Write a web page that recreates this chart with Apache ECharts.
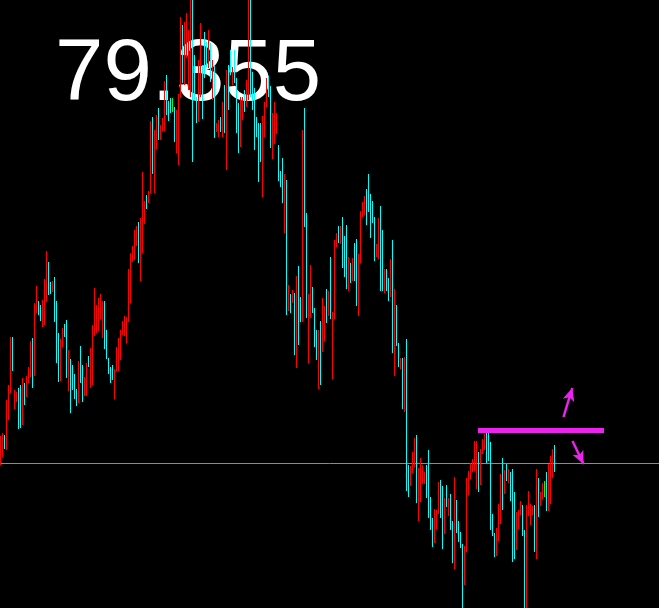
<!DOCTYPE html>
<html>
<head>
<meta charset="utf-8">
<script src="https://cdn.jsdelivr.net/npm/echarts@6/dist/echarts.min.js"></script>
<style>html,body{margin:0;padding:0;background:#000;}#c{width:659px;height:608px;}</style>
</head>
<body>
<div id="c"></div>
<script>
// Bar highs (price)
var highs = [
79.490,79.505,79.495,79.670,79.745,79.985,79.985,79.720,79.710,79.730,
79.745,79.780,79.755,79.790,79.835,79.965,79.980,80.155,80.240,80.165,
80.145,80.170,80.275,80.415,80.360,80.260,80.265,80.285,80.165,80.005,
79.975,80.030,80.050,80.070,79.920,79.875,79.845,79.800,79.725,79.865,
79.940,79.845,79.785,79.855,79.890,79.930,80.045,80.230,80.145,80.180,
80.200,80.165,80.165,80.020,79.880,79.835,79.845,79.825,79.935,79.980,
80.020,80.065,80.090,80.085,80.325,80.405,80.440,80.520,80.540,80.560,
80.580,80.810,80.665,80.695,80.715,81.065,81.085,81.020,81.095,81.130,
81.045,81.080,81.265,81.295,81.165,81.180,81.180,81.135,81.120,81.200,
81.585,81.545,81.560,81.605,81.520,81.695,81.695,81.395,81.185,81.370,
81.555,81.345,81.510,81.460,81.520,81.455,81.370,81.340,81.055,81.070,
81.085,81.160,81.245,81.320,81.345,81.420,81.335,81.420,81.280,81.155,
81.185,81.185,81.220,81.270,81.695,81.695,81.310,81.230,81.085,81.055,
81.055,81.090,81.160,81.280,81.290,81.240,81.105,81.160,81.105,80.945,
80.815,80.880,80.800,80.770,80.245,80.200,80.220,80.205,80.290,80.340,
80.185,81.020,81.130,80.605,80.200,80.345,80.235,80.130,80.020,80.020,
80.065,80.180,80.140,80.225,80.215,80.385,80.110,80.470,80.505,80.540,
80.540,80.585,80.490,80.545,80.385,80.355,80.380,80.455,80.475,80.400,
80.615,80.660,80.690,80.725,80.800,80.700,80.665,80.585,80.450,80.580,
80.640,80.520,80.325,80.325,80.280,80.375,80.470,80.225,80.145,79.955,
79.880,79.880,79.885,79.975,79.345,79.340,79.410,79.480,79.495,79.330,
79.380,79.345,79.310,79.345,79.420,79.185,79.080,79.125,79.120,79.260,
79.270,79.240,79.180,79.245,79.180,79.200,79.065,79.285,79.170,79.065,
79.010,78.950,78.940,79.280,79.315,79.355,79.375,79.465,79.465,79.410,
79.425,79.475,79.500,79.505,79.505,79.460,79.100,79.005,79.030,79.150,
79.300,79.380,79.320,79.350,79.325,79.310,79.325,79.210,79.110,79.120,
79.165,79.145,79.020,79.145,79.215,79.150,79.140,79.145,79.325,79.280,
79.210,79.255,79.265,79.310,79.350,79.390,79.425,79.445
];
// Bar lows (price)
var lows = [
79.345,79.385,79.425,79.420,79.570,79.705,79.815,79.625,79.660,79.525,
79.530,79.545,79.645,79.685,79.755,79.785,79.730,79.790,80.105,80.095,
80.065,80.035,80.045,80.160,80.195,80.200,80.210,80.060,79.855,79.760,
79.765,79.935,79.985,79.780,79.715,79.605,79.720,79.675,79.640,79.655,
79.755,79.660,79.690,79.690,79.835,79.730,79.745,79.990,80.005,80.015,
80.075,79.980,79.925,79.875,79.800,79.755,79.770,79.675,79.815,79.815,
79.870,79.995,79.990,79.955,80.060,80.155,80.360,80.370,80.440,80.355,
80.265,80.405,80.550,80.625,80.655,80.705,80.800,80.705,80.925,80.970,
80.970,81.015,81.015,81.095,81.065,81.105,81.110,80.960,80.905,80.845,
81.180,81.255,81.245,81.380,81.220,81.185,80.860,81.170,81.055,81.060,
81.185,81.075,81.280,81.335,81.330,81.260,81.170,80.980,81.010,80.985,
81.010,80.985,81.005,80.820,81.120,81.295,81.245,81.255,81.005,80.905,
80.935,81.070,81.110,81.135,81.170,81.185,81.120,80.920,80.985,80.760,
80.860,80.685,80.985,81.135,81.185,80.930,80.875,80.950,81.000,80.765,
80.735,80.655,80.505,80.095,80.115,80.105,80.155,79.895,79.830,79.945,
80.060,80.060,80.535,80.080,79.855,80.080,80.105,79.935,79.870,79.725,
79.745,79.910,79.965,80.055,80.090,80.075,79.775,80.075,80.435,80.455,
80.450,80.330,80.285,80.225,80.215,80.255,80.265,80.265,80.140,80.090,
80.355,80.585,80.595,80.545,80.610,80.480,80.555,80.365,80.385,80.375,
80.215,80.215,80.205,80.215,80.165,80.185,79.905,79.790,79.940,79.835,
79.825,79.625,79.610,79.215,79.185,79.240,79.305,79.335,79.155,79.065,
79.160,79.250,79.250,79.180,79.080,79.020,78.935,78.955,79.025,79.100,
79.080,78.925,79.000,79.135,79.090,79.020,78.855,78.825,79.005,78.960,
78.930,78.610,78.745,78.910,79.195,79.275,79.310,79.315,79.225,79.210,
79.245,79.400,79.420,79.355,79.365,79.020,78.990,78.885,78.890,78.965,
79.050,79.120,79.200,79.265,79.255,79.165,78.860,78.875,78.920,79.025,
79.095,78.990,78.610,78.610,79.090,79.045,79.095,78.910,78.875,79.085,
79.140,79.175,79.185,79.115,79.115,79.150,79.280,79.310
];
// Bar direction: 1 = up (red), -1 = down (cyan), 0 = unchanged (green)
var dirs = [
1,1,-1,1,1,1,-1,1,1,-1, -1,1,-1,1,1,1,-1,1,1,-1,
-1,1,1,1,-1,-1,1,-1,-1,-1, 1,1,-1,-1,1,-1,-1,-1,-1,1,
-1,-1,1,1,-1,1,1,1,1,1, 1,1,-1,-1,-1,-1,-1,1,1,1,
1,1,1,1,1,1,1,1,1,-1, 1,1,1,-1,1,1,-1,1,1,-1,
1,1,1,-1,-1,-1,0,-1,1,1, 1,-1,1,1,1,1,-1,-1,-1,1,
1,-1,-1,-1,1,-1,1,-1,1,1, -1,1,-1,1,-1,-1,1,-1,-1,-1,
1,1,-1,1,1,-1,-1,-1,-1,-1, -1,1,1,1,-1,-1,1,1,1,-1,
-1,-1,1,-1,1,-1,1,-1,1,-1, -1,1,-1,-1,1,1,-1,-1,-1,1,
-1,1,1,-1,1,-1,1,1,1,-1, 1,-1,-1,-1,1,-1,1,-1,-1,1,
1,1,1,-1,-1,-1,-1,-1,1,1, -1,-1,1,-1,-1,1,-1,1,-1,-1,
1,-1,1,-1,-1,1,1,1,-1,1, 1,1,1,-1,-1,-1,-1,1,1,1,
-1,-1,1,-1,1,-1,-1,1,-1,-1, -1,-1,1,1,1,1,1,1,1,-1,
1,1,1,-1,-1,-1,-1,-1,1,1, 1,-1,1,-1,1,-1,-1,-1,1,1,
1,-1,-1,1,1,1,1,-1,1,-1, 1,1,0,-1,1,1,1,-1
];
var lastPrice = 79.355;
var levelPrice = 79.5175;
var priceText = '79.355';

var colorOf = {'1': '#ff0000', '-1': '#00ffff', '0': '#00ff00'};
var bars = highs.map(function (h, i) { return [i, h, lows[i], dirs[i]]; });

var chart = echarts.init(document.getElementById('c'), null, {renderer: 'canvas'});
chart.setOption({
  backgroundColor: '#000000',
  animation: false,
  grid: {left: 0, right: 0, top: 0, bottom: 0},
  xAxis: {type: 'value', min: -0.25, max: 329.25, show: false},
  yAxis: {type: 'value', min: 78.63, max: 81.67, show: false},
  graphic: [{
    type: 'text', z: 0, left: 55, top: 33,
    style: {text: priceText, fill: '#ffffff', font: 'normal 87px "Liberation Sans", Arial, sans-serif'}
  }],
  series: [{
    type: 'custom',
    z: 5,
    clip: true,
    data: bars,
    encode: {x: 0, y: [1, 2]},
    renderItem: function (params, api) {
      var i = api.value(0);
      var top = api.coord([i, api.value(1)]);
      var bot = api.coord([i, api.value(2)]);
      var d = String(api.value(3));
      return {
        type: 'rect',
        shape: {x: Math.round(top[0] - 0.5), y: top[1], width: 1, height: Math.max(1, bot[1] - top[1])},
        style: {fill: colorOf[d]}
      };
    },
    markLine: {
      silent: true,
      animation: false,
      symbol: 'none',
      label: {show: false},
      data: [
        [{coord: [-0.25, lastPrice], lineStyle: {color: '#7f8d9c', width: 1, type: 'solid'}},
         {coord: [329.25, lastPrice]}],
        [{coord: [238.75, levelPrice], lineStyle: {color: '#ee22ee', width: 5, type: 'solid'}},
         {coord: [301.75, levelPrice]}],
        [{coord: [281.5, 79.585], symbol: 'none', lineStyle: {color: '#ee22ee', width: 2.5, type: 'solid'}},
         {coord: [285.9, 79.73], symbol: 'arrow', symbolSize: [9, 13]}],
        [{coord: [286.0, 79.465], symbol: 'none', lineStyle: {color: '#ee22ee', width: 2.5, type: 'solid'}},
         {coord: [291.5, 79.35], symbol: 'arrow', symbolSize: [9, 13]}]
      ]
    }
  }]
});
</script>
</body>
</html>
